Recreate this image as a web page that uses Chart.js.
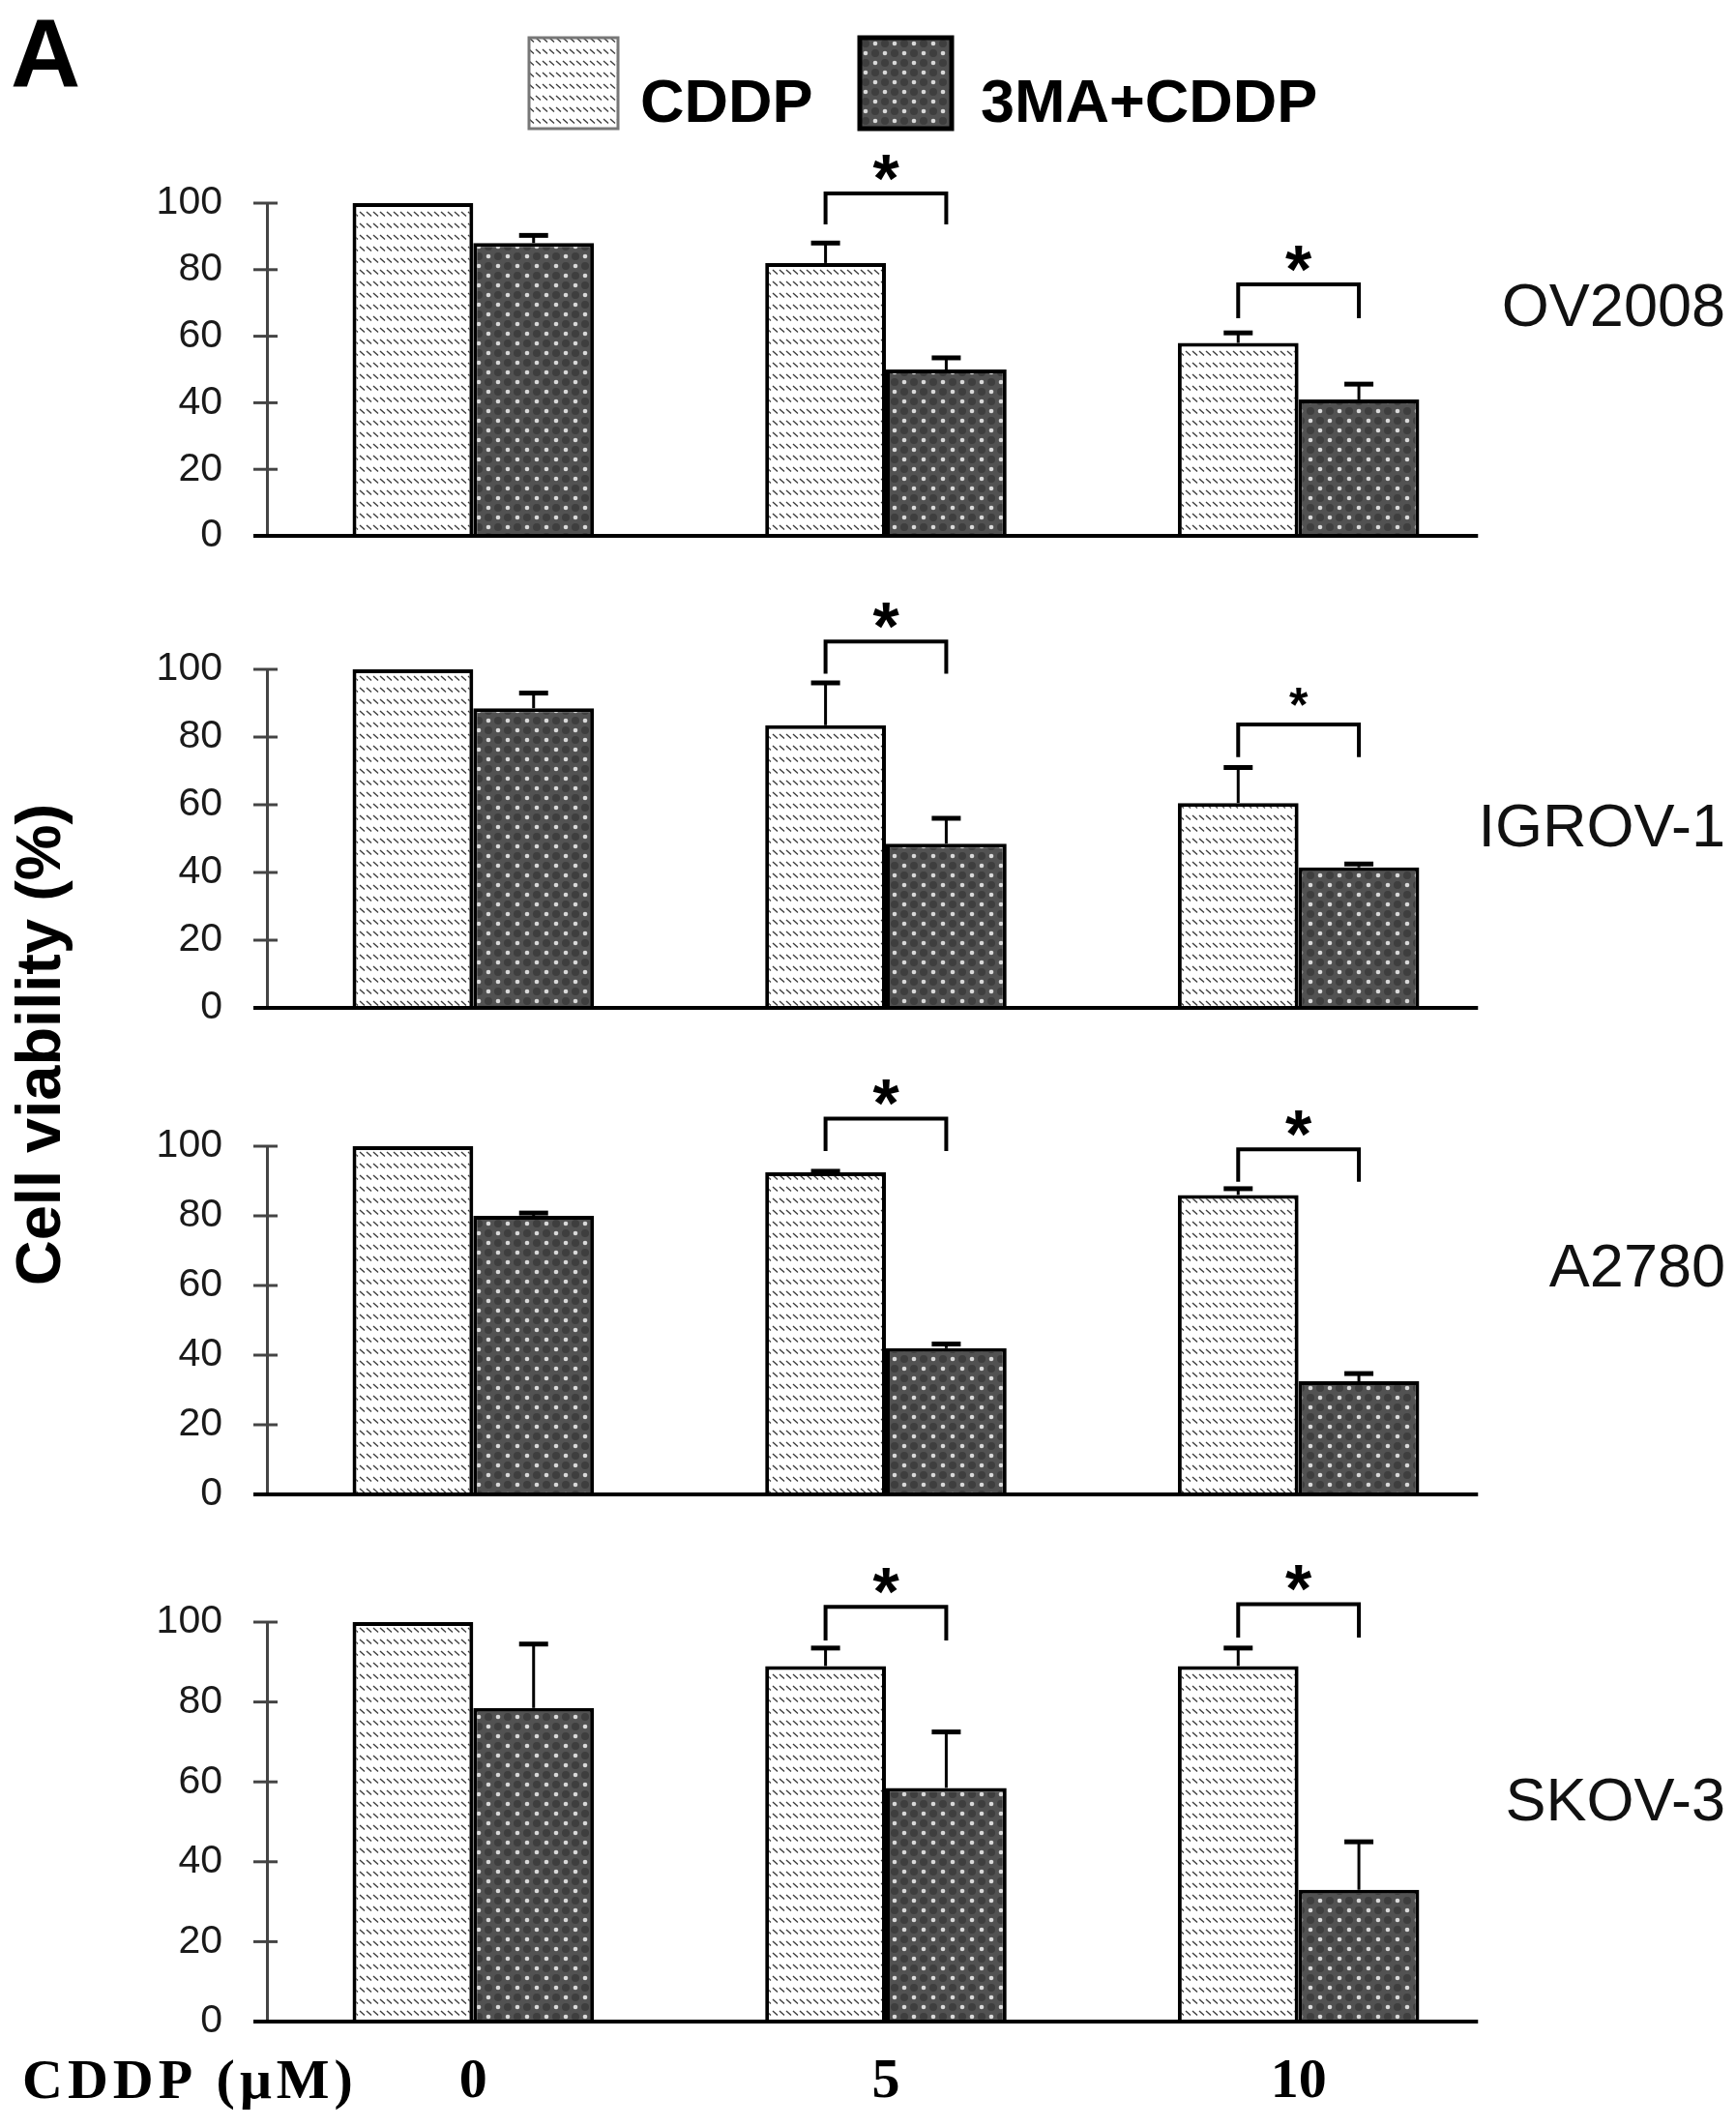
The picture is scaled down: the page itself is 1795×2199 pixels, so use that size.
<!DOCTYPE html>
<html>
<head>
<meta charset="utf-8">
<script src="https://cdn.jsdelivr.net/npm/chart.js@4.4.1/dist/chart.umd.min.js"></script>
<style>
  html, body { margin: 0; padding: 0; background: #fff; }
  #figure { position: relative; width: 1795px; height: 2199px; }
  #figure canvas { position: absolute; left: 0; top: 0; }
</style>
</head>
<body>
<div id="figure">
  <canvas id="panel0" width="1795" height="2199"></canvas>
  <canvas id="panel1" width="1795" height="2199"></canvas>
  <canvas id="panel2" width="1795" height="2199"></canvas>
  <canvas id="panel3" width="1795" height="2199"></canvas>
</div>
<script>
const doses = ['0', '5', '10'];
const seriesNames = ['CDDP', '3MA+CDDP'];
const cellLines = ['OV2008', 'IGROV-1', 'A2780', 'SKOV-3'];
const yTicks = [0, 20, 40, 60, 80, 100];

// cell viability (%), one row per cell line, one value per dose
const cddpMeans = [
  [100, 82, 58],
  [100, 83.5, 60.5],
  [100, 92.5, 86],
  [100, 89, 89]
];
const cddpErrors = [
  [0, 6, 3],
  [0, 12.5, 10.5],
  [0, 0.3, 1.8],
  [0, 4.5, 4.5]
];
const comboMeans = [
  [88, 50, 41],
  [88.5, 48.5, 41.5],
  [80, 42, 32.5],
  [78.5, 58.5, 33]
];
const comboErrors = [
  [2.3, 3.5, 4.6],
  [4.5, 7.5, 1],
  [0.8, 1.2, 2.2],
  [16, 14, 12]
];
// significance brackets: [dose index, leg end (%), bracket top (%)]
const sigBrackets = [
  [[1, 93.6, 102.9], [2, 65.4, 75.6]],
  [[1, 98.7, 108.2], [2, 74.1, 83.7]],
  [[1, 98.6, 107.9], [2, 89.8, 99.1]],
  [[1, 95.4, 103.8], [2, 96.1, 104.5]]
];

// layout of the four stacked panels (pixels)
const panelTop = [210, 692, 1185, 1677];
const panelBottom = [554, 1042, 1545, 2090];
const labelY = [320, 858, 1313, 1865];
const FIG_H = 2199;
const SANS = '"Liberation Sans", Arial, sans-serif';
const SERIF = '"Liberation Serif", "Times New Roman", serif';

function makeHatch() {
  const c = document.createElement('canvas');
  c.width = 7; c.height = 12;
  const g = c.getContext('2d');
  g.fillStyle = '#fff';
  g.fillRect(0, 0, 7, 12);
  g.strokeStyle = '#3c3c3c';
  g.lineWidth = 1.4;
  g.beginPath();
  g.moveTo(1, 3);
  g.lineTo(6, 7.5);
  g.stroke();
  return g.createPattern(c, 'repeat');
}

function makeDots() {
  const c = document.createElement('canvas');
  c.width = 20; c.height = 20;
  const g = c.getContext('2d');
  g.fillStyle = '#525252';
  g.fillRect(0, 0, 20, 20);
  const dot = (x, y, r, col) => {
    g.fillStyle = col;
    g.beginPath();
    g.arc(x, y, r, 0, Math.PI * 2);
    g.fill();
  };
  dot(15, 5, 4, '#3e3e3e');
  dot(5, 15, 4, '#3e3e3e');
  dot(5, 5, 2.3, '#dadada');
  dot(15, 15, 2.3, '#dadada');
  return g.createPattern(c, 'repeat');
}

const hatch = makeHatch();
const dots = makeDots();

function line(ctx, x1, y1, x2, y2) {
  ctx.beginPath();
  ctx.moveTo(x1, y1);
  ctx.lineTo(x2, y2);
  ctx.stroke();
}

const panelDecor = {
  id: 'panelDecor',
  afterDatasetsDraw(chart, args, opts) {
    const { ctx, chartArea, scales: { x, y } } = chart;
    const p = opts.panel;
    ctx.save();

    // tick marks crossing the y axis
    ctx.strokeStyle = '#444';
    ctx.lineWidth = 3;
    y.ticks.forEach(t => {
      const py = y.getPixelForValue(t.value);
      line(ctx, chartArea.left - 14, py, chartArea.left + 11, py);
    });

    // baseline
    const step = x.getPixelForValue(1) - x.getPixelForValue(0);
    const y0 = y.getPixelForValue(0);
    ctx.strokeStyle = '#000';
    ctx.lineWidth = 4;
    line(ctx, chartArea.left - 14, y0, x.getPixelForValue(doses.length - 1) + 0.435 * step, y0);

    // error bars (upper only)
    const errs = [cddpErrors[p], comboErrors[p]];
    chart.data.datasets.forEach((ds, i) => {
      chart.getDatasetMeta(i).data.forEach((bar, j) => {
        const e = errs[i][j];
        if (!e) return;
        const top = y.getPixelForValue(ds.data[j] + e);
        ctx.lineWidth = 3;
        line(ctx, bar.x, bar.y, bar.x, top);
        ctx.lineWidth = 5;
        line(ctx, bar.x - 15, top, bar.x + 15, top);
      });
    });

    // significance brackets
    const m0 = chart.getDatasetMeta(0).data;
    const m1 = chart.getDatasetMeta(1).data;
    sigBrackets[p].forEach(([d, leg, topVal], k) => {
      const x1 = m0[d].x, x2 = m1[d].x;
      const yTop = y.getPixelForValue(topVal);
      const yLeg = y.getPixelForValue(leg);
      ctx.lineWidth = 4;
      ctx.lineJoin = 'miter';
      ctx.beginPath();
      ctx.moveTo(x1, yLeg);
      ctx.lineTo(x1, yTop);
      ctx.lineTo(x2, yTop);
      ctx.lineTo(x2, yLeg);
      ctx.stroke();
      const size = (opts.smallStar === k) ? 50 : 70;
      ctx.fillStyle = '#000';
      ctx.font = 'bold ' + size + 'px ' + SANS;
      ctx.textAlign = 'center';
      ctx.textBaseline = 'alphabetic';
      ctx.fillText('*', (x1 + x2) / 2, yTop - 32 + 0.58 * size);
    });

    // cell line name
    ctx.fillStyle = '#111';
    ctx.font = '63px ' + SANS;
    ctx.textAlign = 'right';
    ctx.textBaseline = 'middle';
    ctx.fillText(cellLines[p], 1784, labelY[p]);
    ctx.restore();
  }
};

const figureText = {
  id: 'figureText',
  afterDraw(chart) {
    const ctx = chart.ctx;
    ctx.save();
    ctx.fillStyle = '#000';
    ctx.textBaseline = 'alphabetic';
    ctx.textAlign = 'left';

    // panel letter
    ctx.font = 'bold 100px ' + SANS;
    ctx.fillText('A', 11, 90);

    // legend
    const boxes = [
      { x: 547, w: 92, border: '#777', bw: 3, tx: 662 },
      { x: 889, w: 95, border: '#000', bw: 5, tx: 1014 }
    ];
    chart.data.datasets.forEach((ds, i) => {
      const b = boxes[i];
      ctx.fillStyle = ds.backgroundColor;
      ctx.fillRect(b.x, 39, b.w, 94);
      ctx.strokeStyle = b.border;
      ctx.lineWidth = b.bw;
      ctx.strokeRect(b.x, 39, b.w, 94);
      ctx.fillStyle = '#000';
      ctx.font = 'bold 63px ' + SANS;
      ctx.fillText(ds.label, b.tx, 126);
    });

    // y axis title
    ctx.translate(62, 1080);
    ctx.rotate(-Math.PI / 2);
    ctx.textAlign = 'center';
    ctx.font = 'bold 65px ' + SANS;
    ctx.fillText('Cell viability (%)', 0, 0);
    ctx.restore();
  }
};

const doseTitle = {
  id: 'doseTitle',
  afterDraw(chart) {
    const ctx = chart.ctx;
    ctx.save();
    ctx.fillStyle = '#000';
    ctx.font = 'bold 58px ' + SERIF;
    ctx.letterSpacing = '5px';
    ctx.textAlign = 'left';
    ctx.textBaseline = 'middle';
    ctx.fillText('CDDP (\u03BCM)', 23, 2154);
    ctx.restore();
  }
};

cellLines.forEach((name, p) => {
  const last = p === cellLines.length - 1;
  const extra = [];
  if (p === 0) extra.push(figureText);
  if (last) extra.push(doseTitle);
  new Chart(document.getElementById('panel' + p), {
    type: 'bar',
    data: {
      labels: doses,
      datasets: [
        {
          label: seriesNames[0],
          data: cddpMeans[p],
          backgroundColor: hatch,
          borderColor: '#000',
          borderWidth: 4
        },
        {
          label: seriesNames[1],
          data: comboMeans[p],
          backgroundColor: dots,
          borderColor: '#000',
          borderWidth: 4
        }
      ]
    },
    options: {
      responsive: false,
      animation: false,
      devicePixelRatio: 1,
      events: [],
      categoryPercentage: 0.585,
      barPercentage: 1,
      layout: {
        padding: {
          left: 0,
          right: 239,
          top: panelTop[p],
          bottom: last ? FIG_H - panelBottom[p] - 100 : FIG_H - panelBottom[p]
        }
      },
      plugins: {
        legend: { display: false },
        tooltip: { enabled: false },
        panelDecor: { panel: p, smallStar: p === 1 ? 1 : -1 }
      },
      scales: {
        x: {
          display: last,
          offset: true,
          grid: { display: false, drawTicks: false },
          border: { display: false },
          ticks: {
            color: '#000',
            padding: 28,
            font: { family: SERIF, size: 58, weight: 'bold' }
          },
          afterFit: last ? (s => { s.height = 100; }) : undefined
        },
        y: {
          min: 0,
          max: 100,
          afterBuildTicks: s => { s.ticks = yTicks.map(v => ({ value: v })); },
          afterFit: s => { s.width = 276; },
          grid: { display: false, drawTicks: false },
          border: { display: true, color: '#444', width: 3 },
          ticks: {
            color: '#1a1a1a',
            padding: 46,
            font: { family: SANS, size: 41 }
          }
        }
      }
    },
    plugins: [panelDecor, ...extra]
  });
});
</script>
</body>
</html>
